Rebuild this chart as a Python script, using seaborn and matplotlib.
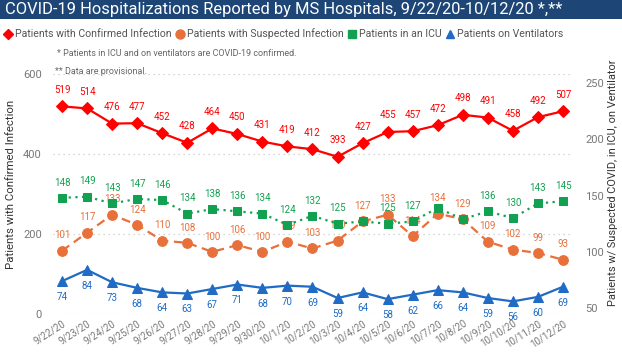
import matplotlib
matplotlib.use("Agg")
import matplotlib.pyplot as plt
import seaborn as sns
import numpy as np
import pandas as pd
from matplotlib.lines import Line2D
from matplotlib.patches import Rectangle

dates = ['9/22/20', '9/23/20', '9/24/20', '9/25/20', '9/26/20', '9/27/20', '9/28/20',
         '9/29/20', '9/30/20', '10/1/20', '10/2/20', '10/3/20', '10/4/20', '10/5/20',
         '10/6/20', '10/7/20', '10/8/20', '10/9/20', '10/10/20', '10/11/20', '10/12/20']
confirmed = [519, 514, 476, 477, 452, 428, 464, 450, 431, 419, 412, 393, 427, 455, 457, 472, 498, 491, 458, 492, 507]
suspected = [101, 117, 133, 124, 110, 108, 100, 106, 100, 109, 103, 110, 127, 133, 114, 134, 129, 109, 102, 99, 93]
icu = [148, 149, 143, 147, 146, 134, 138, 136, 134, 124, 132, 125, 127, 125, 127, 139, 129, 136, 130, 143, 145]
vent = [74, 84, 73, 68, 64, 63, 67, 71, 68, 70, 69, 59, 64, 58, 62, 66, 64, 59, 56, 60, 69]
icu_hidden_labels = ['10/4/20', '10/7/20', '10/8/20']

title = "COVID-19 Hospitalizations Reported by MS Hospitals, 9/22/20-10/12/20 *,**"
series_names = ['Patients with Confirmed Infection', 'Patients with Suspected Infection',
                'Patients in an ICU', 'Patients on Ventilators']
note1 = "* Patients in ICU and on ventilators are COVID-19 confirmed."
note2 = "** Data are provisional."
left_label = "Patients with Confirmed Infection"
right_label = "Patients w/ Suspected COVID, in ICU, on Ventilator"

RED, ORANGE, GREEN, BLUE = '#FF0000', '#E8703A', '#12A150', '#1F6BC5'
GRAY = '#777777'

sns.set_theme(style="white")
plt.rcParams['font.family'] = ['Roboto', 'DejaVu Sans']

W, H = 622, 352
fig = plt.figure(figsize=(W / 100, H / 100), dpi=100)
fig.patches.append(Rectangle((0, 1 - 19 / H), 1, 19 / H, transform=fig.transFigure,
                             facecolor='#1D4677', edgecolor='none', zorder=0))
fig.text(5 / W, 1 - 9.5 / H, title, color='white', fontsize=11.9, va='center', ha='left')

ax = fig.add_axes([53 / W, (H - 314) / H, (573 - 53) / W, (314 - 74) / H])
ax2 = ax.twinx()
df = pd.DataFrame({'x': np.arange(len(dates)), 'date': dates, 'confirmed': confirmed,
                   'suspected': suspected, 'icu': icu, 'vent': vent})

sns.lineplot(data=df, x='x', y='confirmed', ax=ax, color=RED, marker='D', markersize=6.5,
             markeredgecolor=RED, linewidth=1.6, zorder=3)
sns.lineplot(data=df, x='x', y='suspected', ax=ax2, color=ORANGE, marker='o', markersize=7,
             markeredgecolor=ORANGE, linewidth=1.6, linestyle=(0, (4, 2.5)), zorder=2)
sns.lineplot(data=df, x='x', y='icu', ax=ax2, color=GREEN, marker='s', markersize=5.5,
             markeredgecolor=GREEN, linewidth=1.6, linestyle=(0, (1, 2)), zorder=4)
sns.lineplot(data=df, x='x', y='vent', ax=ax2, color=BLUE, marker='^', markersize=6.5,
             markeredgecolor=BLUE, linewidth=1.6, zorder=3)

lab_fs = 7
for i, d in enumerate(dates):
    ax.annotate(str(confirmed[i]), (i, confirmed[i]), xytext=(0, 12), textcoords='offset points',
                ha='center', va='center', color=RED, fontsize=lab_fs, zorder=5)
    ax2.annotate(str(suspected[i]), (i, suspected[i]), xytext=(0, 11), textcoords='offset points',
                 ha='center', va='center', color=ORANGE, fontsize=lab_fs, zorder=3)
    if d not in icu_hidden_labels:
        ax2.annotate(str(icu[i]), (i, icu[i]), xytext=(0, 11), textcoords='offset points',
                     ha='center', va='center', color=GREEN, fontsize=lab_fs, zorder=5)
    ax2.annotate(str(vent[i]), (i, vent[i]), xytext=(0, -11.5), textcoords='offset points',
                 ha='center', va='center', color=BLUE, fontsize=lab_fs, zorder=5)

ax.set_xlim(-0.36, len(dates) - 1 + 0.4)
ax.set_ylim(0, 600)
ax.set_yticks([0, 200, 400, 600])
ax2.set_ylim(44.8, 258)
ax2.set_yticks([50, 100, 150, 200, 250])
ax.set_xticks(df['x'])
ax.set_xticklabels(dates, rotation=33, ha='right', rotation_mode='anchor')
ax.grid(axis='y', color='#c8c8c8', linestyle=(0, (1, 3)), linewidth=0.9)
ax.grid(axis='x', visible=False)
ax2.grid(False)
for a in (ax, ax2):
    for s in a.spines.values():
        s.set_visible(False)
    a.set_xlabel('')
    a.set_ylabel('')
ax.tick_params(axis='y', colors=GRAY, labelsize=8, length=0, pad=8)
ax.tick_params(axis='x', colors='#666666', labelsize=7, length=0, pad=3)
ax2.tick_params(axis='y', colors=GRAY, labelsize=8, length=0, pad=9)
for t in ax.get_xticklabels() + ax.get_yticklabels() + ax2.get_yticklabels():
    t.set_color(GRAY)

fig.text(11 / W, (H - 184) / H, left_label, rotation=90, ha='center', va='center',
         fontsize=8.2, color='#333333')
fig.text(613 / W, (H - 183) / H, right_label, rotation=90, ha='center', va='center',
         fontsize=7.9, color='#333333')

handles = [
    Line2D([], [], linestyle='none', marker='D', color=RED, markersize=5.5),
    Line2D([], [], linestyle='none', marker='o', color=ORANGE, markersize=6.5),
    Line2D([], [], linestyle='none', marker='s', color=GREEN, markersize=6),
    Line2D([], [], linestyle='none', marker='^', color=BLUE, markersize=6),
]
leg = fig.legend(handles, series_names, loc='center left', bbox_to_anchor=(2 / W, 1 - 34 / H),
                 ncol=4, frameon=False, fontsize=7.6, handlelength=0.8, handletextpad=0.25,
                 columnspacing=0.4, borderaxespad=0, borderpad=0.2)
for t in leg.get_texts():
    t.set_color('#555555')

fig.text(57 / W, 1 - 53 / H, note1, fontsize=6.5, color='#666666', va='center', ha='left')
fig.text(55 / W, 1 - 71 / H, note2, fontsize=6.5, color='#666666', va='center', ha='left')

fig.savefig('out.png', dpi=100, facecolor='white')
